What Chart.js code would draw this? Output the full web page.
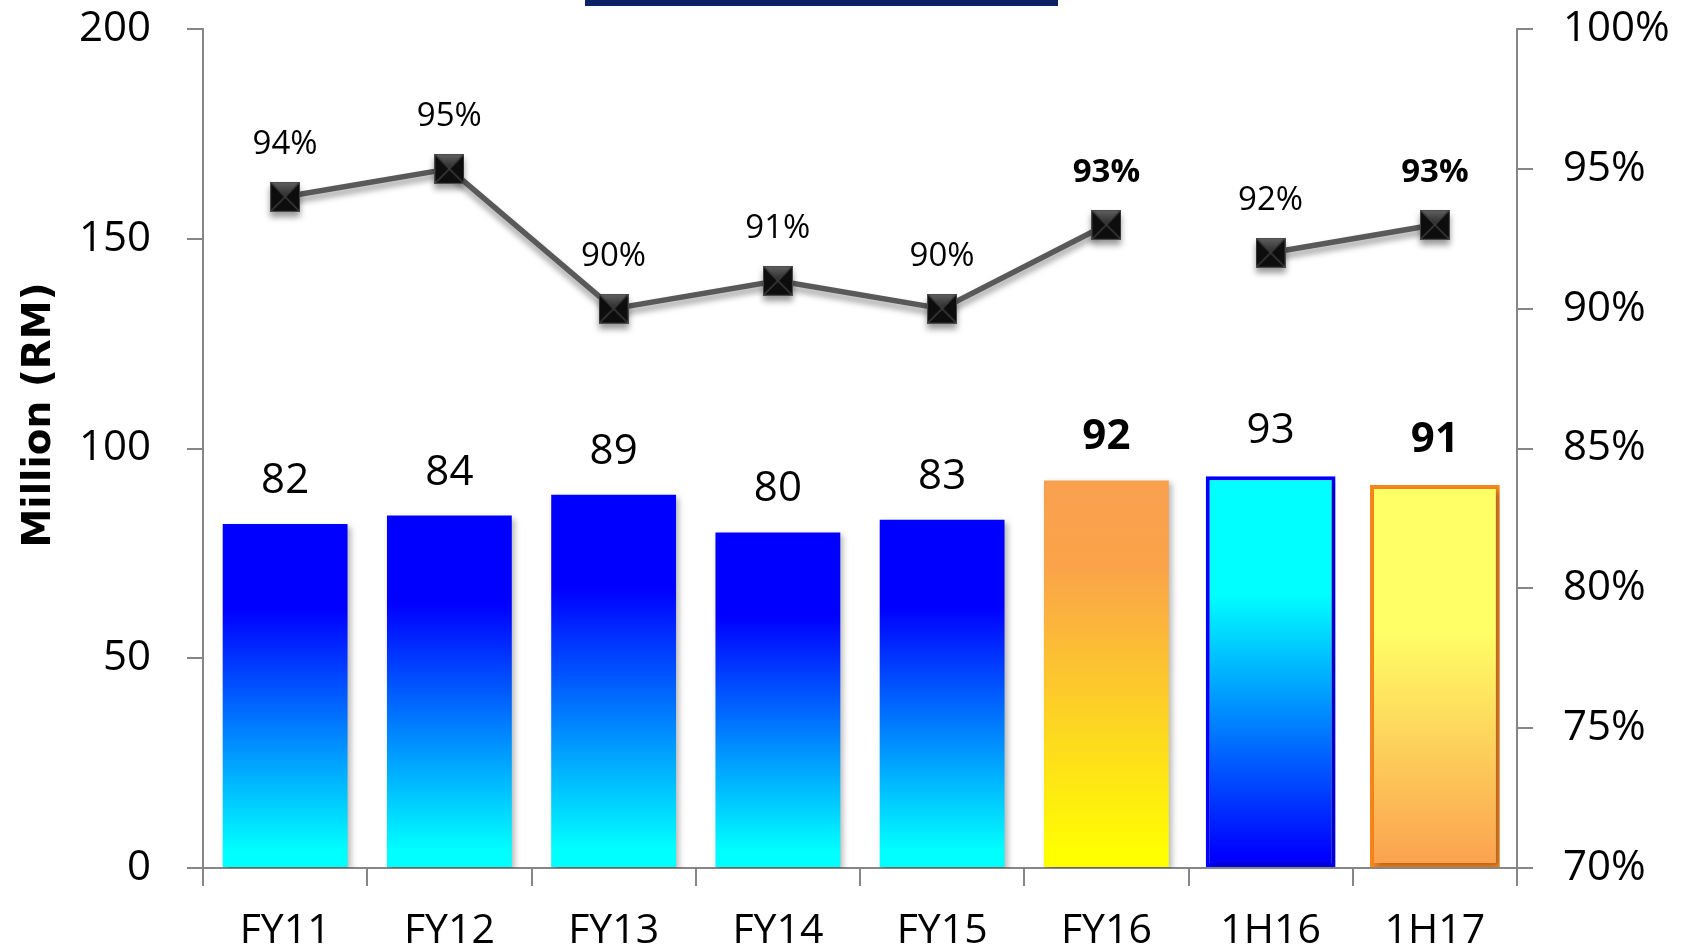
<!DOCTYPE html>
<html><head><meta charset="utf-8">
<script src="https://cdn.jsdelivr.net/npm/chart.js@4.4.1/dist/chart.umd.min.js"></script>
<style>
html,body{margin:0;padding:0;background:#fff;}
#wrap{position:relative;width:1690px;height:951px;overflow:hidden;}
#uline{position:absolute;left:585px;top:0;width:473px;height:6px;background:#0B2265;}
canvas{position:absolute;left:0;top:0;}
</style>
</head><body>
<div id="wrap"><canvas id="c" width="1690" height="951"></canvas><div id="uline"></div></div>
<script>
// ---- data ----
const categories = ['FY11','FY12','FY13','FY14','FY15','FY16','1H16','1H17'];
const revenue = [82, 84, 89, 80, 83, 92.4, 93.4, 91.3];
const revenueLabels = ['82','84','89','80','83','92','93','91'];
const margin = [94, 95, 90, 91, 90, 93, 92, 93];
const marginLabels = ['94%','95%','90%','91%','90%','93%','92%','93%'];
const leftTickValues = [0, 50, 100, 150, 200];
const rightTickValues = [70, 75, 80, 85, 90, 95, 100];
const yTitle = 'Million (RM)';

// ---- styles ----
const boldIdx = [5, 7];
const outlinedIdx = [6, 7];
const gapAfter = 5;
const AXIS = '#868686';
const BLUE = [[0,'#0000FF'],[0.25,'#0000FF'],[0.95,'#00FFFF'],[1,'#00FFFF']];
const gradStops = [
  BLUE, BLUE, BLUE, BLUE, BLUE,
  [[0,'#F9A04F'],[0.22,'#FAA34A'],[0.97,'#FFFF00'],[1,'#FFFF00']],
  [[0,'#00FFFF'],[0.3,'#00FFFF'],[0.97,'#0000FF'],[1,'#0000FF']],
  [[0,'#FFFF66'],[0.38,'#FFFF66'],[1,'#FBA04F']]
];
const borderColors = ['rgba(0,0,0,0)','rgba(0,0,0,0)','rgba(0,0,0,0)','rgba(0,0,0,0)','rgba(0,0,0,0)','rgba(0,0,0,0)','#0000FF','#F8861C'];

function barGradient(ctx) {
  const chart = ctx.chart;
  if (!chart.chartArea || ctx.type !== 'data' || ctx.parsed.y == null) return '#0000FF';
  const y = chart.scales.y;
  const top = y.getPixelForValue(ctx.parsed.y);
  const bottom = y.getPixelForValue(0);
  const g = chart.ctx.createLinearGradient(0, top, 0, bottom);
  gradStops[ctx.dataIndex].forEach(s => g.addColorStop(s[0], s[1]));
  return g;
}

function makeMarker() {
  const s = 30;
  const cv = document.createElement('canvas');
  cv.width = s; cv.height = s;
  const g = cv.getContext('2d');
  g.fillStyle = '#0d0d0d';
  g.fillRect(0, 0, s, s);
  const gr = g.createLinearGradient(0, 0, 0, s / 2);
  gr.addColorStop(0, '#626262');
  gr.addColorStop(1, '#2a2a2a');
  g.fillStyle = gr;
  g.beginPath(); g.moveTo(0, 0); g.lineTo(s, 0); g.lineTo(s / 2, s / 2); g.closePath(); g.fill();
  g.strokeStyle = '#3c3c3c'; g.lineWidth = 1.5;
  g.beginPath(); g.moveTo(0, 0); g.lineTo(s, s); g.moveTo(s, 0); g.lineTo(0, s); g.stroke();
  g.strokeStyle = '#4a4a4a'; g.lineWidth = 1;
  g.strokeRect(0.5, 0.5, s - 1, s - 1);
  return cv;
}

const shadowPlugin = {
  id: 'shadows',
  beforeDatasetDraw(chart, args) {
    const c = chart.ctx;
    c.save();
    if (chart.data.datasets[args.index].type === 'bar') {
      c.shadowColor = 'rgba(0,0,0,0.28)'; c.shadowBlur = 6; c.shadowOffsetX = 3; c.shadowOffsetY = 3;
    } else {
      c.shadowColor = 'rgba(0,0,0,0.4)'; c.shadowBlur = 6; c.shadowOffsetX = 0; c.shadowOffsetY = 5;
    }
  },
  afterDatasetDraw(chart) { chart.ctx.restore(); }
};

const labelPlugin = {
  id: 'valueLabels',
  afterDatasetsDraw(chart) {
    const c = chart.ctx;
    const plain = chart.getDatasetMeta(0).data, outlined = chart.getDatasetMeta(1).data;
    c.save();
    c.textAlign = 'center';
    c.textBaseline = 'alphabetic';
    c.fillStyle = '#000';
    categories.forEach((_, i) => {
      const el = outlinedIdx.includes(i) ? outlined[i] : plain[i];
      const off = outlinedIdx.includes(i) ? 33 : 31;
      c.font = (boldIdx.includes(i) ? 'bold ' : '') + '42px "Open Sans"';
      c.fillText(revenueLabels[i], el.x, el.y - off);
    });
    chart.getDatasetMeta(2).data.forEach((el, i) => {
      c.font = (boldIdx.includes(i) ? 'bold ' : '') + '33px "Open Sans"';
      c.fillText(marginLabels[i], el.x, el.y - 43);
    });
    // y axis title
    c.font = 'bold 39px "DejaVu Sans"';
    c.translate(50, 415);
    c.rotate(-Math.PI / 2);
    c.fillText(yTitle, 0, 0);
    c.restore();
  }
};

function noPad(s) { s.paddingTop = 0; s.paddingBottom = 0; s.paddingLeft = 0; s.paddingRight = 0; }

function build() {
  new Chart(document.getElementById('c'), {
    data: {
      labels: categories,
      datasets: [
        {
          type: 'bar', label: 'Revenue', yAxisID: 'y', order: 2, grouped: false,
          data: revenue.map((v, i) => outlinedIdx.includes(i) ? null : v),
          backgroundColor: barGradient, borderWidth: 0,
          barPercentage: 0.76, categoryPercentage: 1.0
        },
        {
          type: 'bar', label: 'Revenue (half-year)', yAxisID: 'y', order: 1, grouped: false,
          data: revenue.map((v, i) => outlinedIdx.includes(i) ? v : null),
          backgroundColor: barGradient, borderColor: borderColors, borderWidth: 4,
          borderSkipped: false, barPercentage: 0.79, categoryPercentage: 1.0
        },
        {
          type: 'line', label: 'Margin', data: margin, yAxisID: 'y1', order: 0,
          borderColor: '#595959', borderWidth: 5.5, tension: 0, fill: false,
          segment: { borderColor: s => s.p0DataIndex === gapAfter ? 'rgba(0,0,0,0)' : '#595959' },
          pointStyle: makeMarker(), pointRadius: 15, pointHoverRadius: 15
        }
      ]
    },
    options: {
      responsive: false, animation: false, devicePixelRatio: 1,
      layout: { padding: { top: 29, left: 0, right: 0, bottom: 0 } },
      plugins: { legend: { display: false }, tooltip: { enabled: false }, title: { display: false } },
      scales: {
        x: {
          type: 'category', offset: true,
          grid: { offset: true, drawOnChartArea: false, drawTicks: true, tickLength: 18, color: AXIS, lineWidth: 2 },
          border: { display: true, color: AXIS, width: 2 },
          ticks: { color: '#000', font: { family: 'Open Sans', size: 41 }, padding: 21, maxRotation: 0, autoSkip: false },
          afterFit(s) { s.height = 83; noPad(s); }
        },
        y: {
          position: 'left', min: 0, max: 200,
          afterBuildTicks(s) { s.ticks = leftTickValues.map(v => ({ value: v })); },
          grid: { drawOnChartArea: false, drawTicks: true, tickLength: 16, color: AXIS, lineWidth: 2 },
          border: { display: true, color: AXIS, width: 2 },
          ticks: { color: '#000', font: { family: 'Open Sans', size: 42 }, padding: 36 },
          afterFit(s) { s.width = 203; noPad(s); }
        },
        y1: {
          position: 'right', min: 70, max: 100,
          afterBuildTicks(s) { s.ticks = rightTickValues.map(v => ({ value: v })); },
          grid: { drawOnChartArea: false, drawTicks: true, tickLength: 16, color: AXIS, lineWidth: 2 },
          border: { display: true, color: AXIS, width: 2 },
          ticks: { color: '#000', font: { family: 'Open Sans', size: 42 }, padding: 30, callback: v => v + '%' },
          afterFit(s) { s.width = 173; noPad(s); }
        }
      }
    },
    plugins: [shadowPlugin, labelPlugin]
  });
}

if (document.fonts && document.fonts.load) {
  Promise.all([
    document.fonts.load('42px "Open Sans"'),
    document.fonts.load('bold 42px "Open Sans"'),
    document.fonts.load('bold 39px "DejaVu Sans"')
  ]).then(build, build);
} else { build(); }
</script>
</body></html>
